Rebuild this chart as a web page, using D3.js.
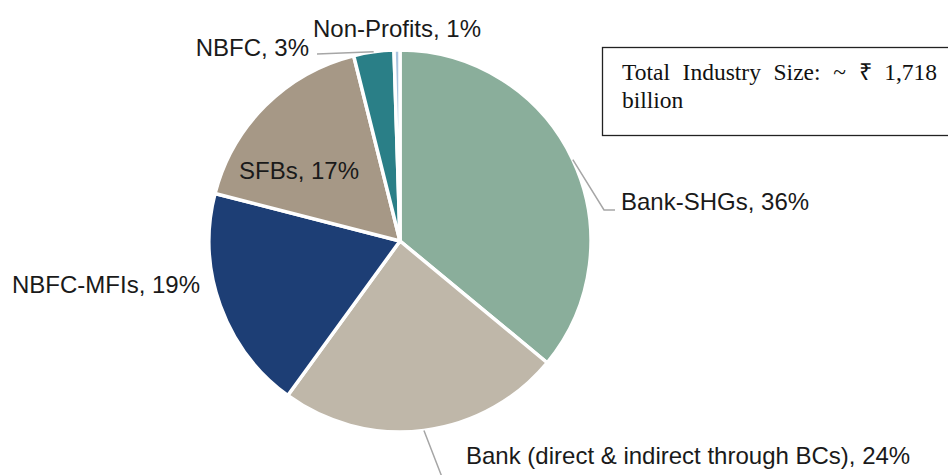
<!DOCTYPE html>
<html>
<head>
<meta charset="utf-8">
<script src="https://cdn.jsdelivr.net/npm/d3@7/dist/d3.min.js"></script>
<style>
  body { margin: 0; background: #fff; }
  svg { display: block; }
</style>
</head>
<body>
<div id="chart"></div>
<script>
// data
const segments = ['Bank-SHGs', 'Bank (direct & indirect through BCs)', 'NBFC-MFIs', 'SFBs', 'NBFC', 'Non-Profits'];
const shares = [36, 24, 19, 17.1, 3.4, 0.5];
const colors = ['#8aae9b', '#bfb7a9', '#1d3e75', '#a69886', '#2a7f87', '#aac4df'];
const boxWords = ['Total', 'Industry', 'Size:', '~', '₹', '1,718'];
const boxTail = 'billion';

const width = 948, height = 475;
const cx = 400, cy = 241, radius = 191;

// where each label sits (baseline), and the bend of its leader line if any
const labelLayout = [
  { x: 621, y: 210, anchor: 'start', leader: [[604, 210], [615, 210]] },
  { x: 466, y: 464, anchor: 'start', leader: [[447, 490], [460, 490]] },
  { x: 12, y: 293, anchor: 'start', leader: null },
  { x: 239, y: 179, anchor: 'start', leader: null },
  { x: 309, y: 56, anchor: 'end', leader: [[317, 54]] },
  { x: 313, y: 37, anchor: 'start', leader: null }
];

const data = segments.map((name, i) => ({ name, value: shares[i], color: colors[i], layout: labelLayout[i] }));

const svg = d3.select('#chart').append('svg')
  .attr('width', width)
  .attr('height', height);

const pie = d3.pie()
  .value(d => d.value)
  .sort(null);
const arcs = pie(data);

const arc = d3.arc()
  .innerRadius(0)
  .outerRadius(radius);
const edgeArc = d3.arc()
  .innerRadius(radius)
  .outerRadius(radius);

const pieG = svg.append('g')
  .attr('transform', `translate(${cx},${cy})`);

pieG.selectAll('path')
  .data(arcs)
  .join('path')
    .attr('d', arc)
    .attr('fill', d => d.data.color)
    .attr('stroke', '#fff')
    .attr('stroke-width', 3.5)
    .attr('stroke-linejoin', 'round');

// leader lines, starting on the rim at the slice's middle angle
const line = d3.line();
svg.append('g')
  .selectAll('path')
  .data(arcs.filter(d => d.data.layout.leader))
  .join('path')
    .attr('d', d => {
      const [ex, ey] = edgeArc.centroid(d);
      return line([[cx + ex, cy + ey], ...d.data.layout.leader]);
    })
    .attr('fill', 'none')
    .attr('stroke', '#a6a6a6')
    .attr('stroke-width', 1.5);

svg.append('g')
  .selectAll('text')
  .data(arcs)
  .join('text')
    .attr('x', d => d.data.layout.x)
    .attr('y', d => d.data.layout.y)
    .attr('text-anchor', d => d.data.layout.anchor)
    .attr('font-family', '"Liberation Sans", Arial, sans-serif')
    .attr('font-size', '24px')
    .attr('fill', '#1a1a1a')
    .text(d => `${d.data.name}, ${Math.round(d.data.value)}%`);

// text box, justified first line
const box = svg.append('g');
box.append('rect')
  .attr('x', 602.5)
  .attr('y', 47.5)
  .attr('width', 400)
  .attr('height', 88)
  .attr('fill', '#fff')
  .attr('stroke', '#222')
  .attr('stroke-width', 1.3);

const left = 622, right = 937;
const words = box.append('g')
  .selectAll('text')
  .data(boxWords)
  .join('text')
    .attr('y', 80)
    .attr('font-family', '"Liberation Serif", "Times New Roman", serif')
    .attr('font-size', '23.5px')
    .attr('fill', '#111')
    .text(d => d);
const widths = words.nodes().map(n => n.getComputedTextLength());
const gap = (right - left - d3.sum(widths)) / (boxWords.length - 1);
let xPos = left;
words.attr('x', (d, i) => {
  const x = xPos;
  xPos += widths[i] + gap;
  return x;
});
box.append('text')
  .attr('x', left)
  .attr('y', 108)
  .attr('font-family', '"Liberation Serif", "Times New Roman", serif')
  .attr('font-size', '23.5px')
  .attr('fill', '#111')
  .text(boxTail);
</script>
</body>
</html>
